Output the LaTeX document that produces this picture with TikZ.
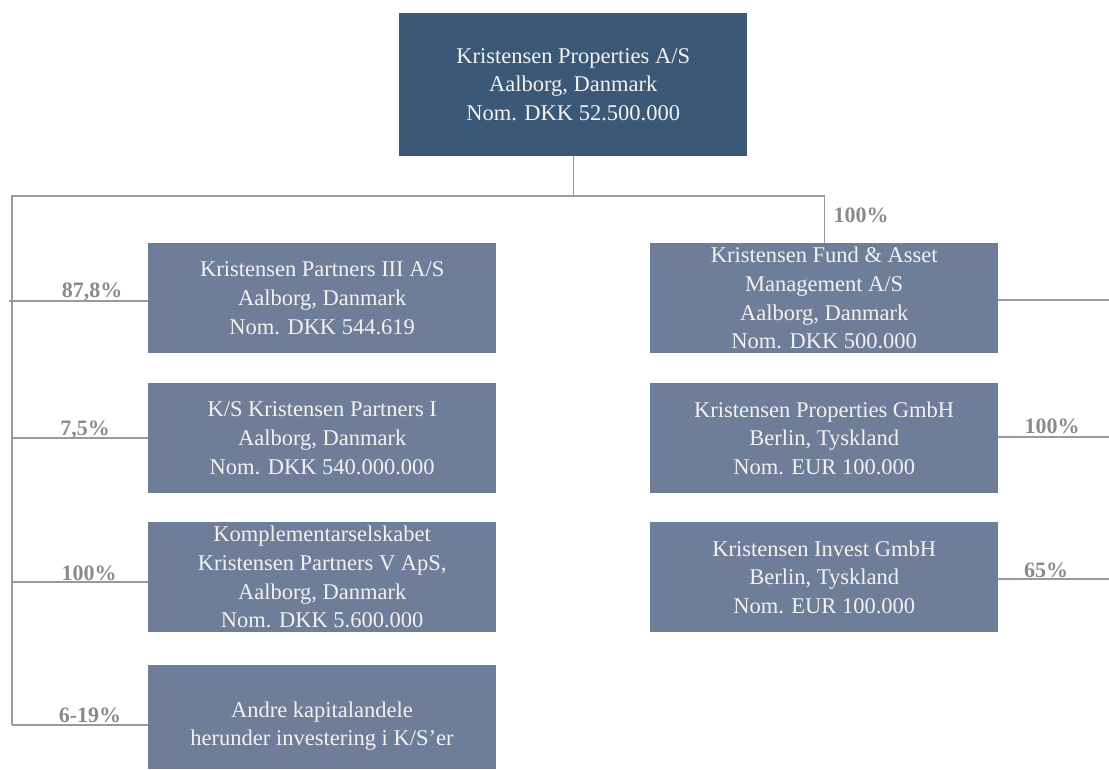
\documentclass[tikz,border=0pt]{standalone}
\usepackage{fontspec}
\setmainfont{Liberation Serif}
\definecolor{topblue}{HTML}{3B5876}
\definecolor{boxblue}{HTML}{6E7D98}
\definecolor{boxtext}{HTML}{F2F2F2}
\definecolor{linegrey}{HTML}{9A9A9A}
\definecolor{pctgrey}{HTML}{8A8A8A}
\begin{document}
\begin{tikzpicture}[x=1pt,y=-1pt,
  boxnode/.style={fill=boxblue,text=boxtext,minimum width=348pt,minimum height=110pt,inner sep=0pt,anchor=north west,align=center,font=\fontsize{22.5}{28.7}\selectfont},
  boxtxt/.style={text=boxtext,inner sep=0pt,align=center,font=\fontsize{22.5}{28.7}\selectfont},
  topnode/.style={boxnode,fill=topblue,minimum height=143pt},
  conn/.style={draw=linegrey,line width=1.4pt},
  pct/.style={text=pctgrey,font=\fontsize{22}{24}\selectfont\bfseries,inner sep=0pt,anchor=base}
]
\useasboundingbox (0,0) rectangle (1109,769);
\node[topnode] (top) at (399,13) {Kristensen Properties A/S\\Aalborg, Danmark\\Nom. DKK 52.500.000};
\node[boxnode] (p3) at (148,243) {Kristensen Partners III A/S\\Aalborg, Danmark\\Nom. DKK 544.619};
\node[boxnode] (p1) at (148,383) {K/S Kristensen Partners I\\Aalborg, Danmark\\Nom. DKK 540.000.000};
\node[boxnode] (p5) at (148,522) {Komplementarselskabet\\Kristensen Partners V ApS,\\Aalborg, Danmark\\Nom. DKK 5.600.000};
\node[boxnode,minimum height=104pt] (andre) at (148,665) {};
\node[boxtxt] (andretxt) at (322,726) {Andre kapitalandele\\herunder investering i K/S'er};
\node[boxnode] (fund) at (650,243) {Kristensen Fund \& Asset\\Management A/S\\Aalborg, Danmark\\Nom. DKK 500.000};
\node[boxnode] (gmbh) at (650,383) {Kristensen Properties GmbH\\Berlin, Tyskland\\Nom. EUR 100.000};
\node[boxnode] (inv) at (650,522) {Kristensen Invest GmbH\\Berlin, Tyskland\\Nom. EUR 100.000};
% connectors
\coordinate (lt) at (12,196);
\coordinate (lb) at (12,725);
\coordinate (j) at (top.south |- lt);
\draw[conn] (top.south) -- (j);
\draw[conn] (j) -| (fund.north);
\draw[conn] (j) -- (lt) -- (lb);
\coordinate (a1) at (9,301); \coordinate (b1) at (148,301);
\coordinate (a2) at (12,438); \coordinate (b2) at (148,438);
\coordinate (a3) at (12,582); \coordinate (b3) at (148,582);
\coordinate (b4) at (148,725);
\draw[conn] (a1) -- (b1);
\draw[conn] (a2) -- (b2);
\draw[conn] (a3) -- (b3);
\draw[conn] (lb) -- (b4);
\coordinate (r1) at (1109,300);
\coordinate (r2) at (1109,437);
\coordinate (r3) at (1109,579);
\draw[conn] (fund.east |- r1) -- (r1);
\draw[conn] (gmbh.east |- r2) -- (r2);
\draw[conn] (inv.east |- r3) -- (r3);
% labels
\node[pct] (l1) at (92,297) {87,8\%};
\node[pct] (l2) at (85,435) {7,5\%};
\node[pct] (l3) at (89,580) {100\%};
\node[pct] (l4) at (90,722) {6-19\%};
\node[pct] (l5) at (861,222) {100\%};
\node[pct] (l6) at (1052,433) {100\%};
\node[pct] (l7) at (1046,577) {65\%};
\end{tikzpicture}
\end{document}
